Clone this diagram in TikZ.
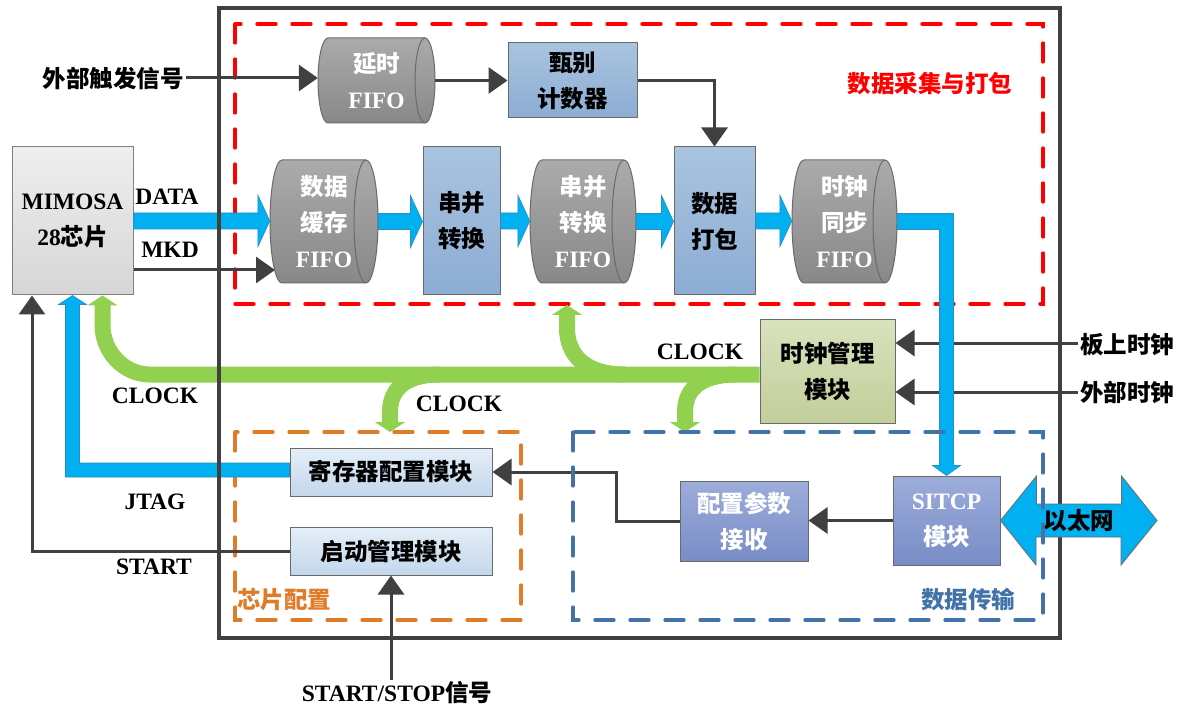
\documentclass[tikz,border=0pt]{standalone}
\usepackage{fontspec}
\setmainfont{Liberation Serif}
\newfontfamily\cjk{Noto Sans CJK SC}
\usetikzlibrary{arrows.meta,calc}
\definecolor{dk}{HTML}{404040}
\definecolor{bdr}{HTML}{6A6A6A}
\definecolor{bluearr}{HTML}{00B0F0}
\definecolor{bluedk}{HTML}{2A8CC0}
\definecolor{grn}{HTML}{92D050}
\definecolor{orng}{HTML}{E07B28}
\definecolor{stb}{HTML}{4273A8}
\definecolor{ft}{HTML}{ABABAB}
\definecolor{fb}{HTML}{888888}
\definecolor{bbA}{HTML}{A9C4E0}
\definecolor{bbB}{HTML}{8CACD3}
\definecolor{lbA}{HTML}{E4EEF8}
\definecolor{lbB}{HTML}{C3D7EB}
\definecolor{gbA}{HTML}{D9E2BD}
\definecolor{gbB}{HTML}{C2CE9A}
\definecolor{pbA}{HTML}{9DADDB}
\definecolor{pbB}{HTML}{788CC6}
\definecolor{mgA}{HTML}{EEEEEE}
\definecolor{mgB}{HTML}{D6D6D6}
\newcommand{\fs}{\fontsize{23.5}{36}\selectfont}
\newcommand{\zh}[1]{{\cjk #1}}
\newcommand{\drawfifo}[7]{%
 \pgfmathsetmacro{\cyry}{(#5-#3)/2}%
 \pgfmathsetmacro{\cycy}{-(#3+#5)/2}%
 \pgfmathsetmacro{\cycx}{(#2+#4)/2}%
 \pgfmathsetmacro{\cyw}{#4-#2}%
 \pgfmathsetmacro{\cyh}{#5-#3}%
 \path[draw=bdr, line width=1pt, top color=ft, bottom color=fb] (#2+#6,-#3) -- (#4-#6,-#3) arc[start angle=90, end angle=-90, x radius=#6, y radius=\cyry] -- (#2+#6,-#5) arc[start angle=270, end angle=90, x radius=#6, y radius=\cyry] -- cycle;
 \draw[draw=bdr, line width=1pt] (#4-#6,-#3) arc[start angle=90, end angle=270, x radius=#6, y radius=\cyry];
 \node[fifotxt, minimum width=\cyw, minimum height=\cyh] (#1) at (\cycx,\cycy) {#7};
}
\newcommand{\bluechev}[2]{%
 \path let \p1=(#1), \p2=(#2) in [bchev] (\x1,\y1+8pt) -- (\x2-12pt,\y1+8pt) -- (\x2-12pt,\y1+26pt) -- (\x2,\y1) -- (\x2-12pt,\y1-26pt) -- (\x2-12pt,\y1-8pt) -- (\x1,\y1-8pt) -- cycle;
}
\begin{document}
\begin{tikzpicture}[x=1pt,y=1pt,
 mybox/.style={rectangle, inner sep=0pt, align=center, font=\fs\bfseries, line width=1pt, draw=bdr},
 bluebox/.style={mybox, top color=bbA, bottom color=bbB},
 ltbox/.style={mybox, top color=lbA, bottom color=lbB},
 grnbox/.style={mybox, top color=gbA, bottom color=gbB},
 purbox/.style={mybox, top color=pbA, bottom color=pbB, text=white},
 graybox/.style={mybox, top color=mgA, bottom color=mgB, draw=gray},
 fifotxt/.style={rectangle, inner sep=0pt, align=center, font=\fs\bfseries, text=white},
 lbl/.style={font=\fs\bfseries, inner sep=2pt, align=center},
 arr/.style={draw=dk, line width=3pt, -{Triangle[length=19pt,width=26pt]}},
 gbus/.style={draw=grn, line width=16pt},
 gtip/.style={gbus, -{Triangle[length=10pt,width=30pt]}},
 bchev/.style={fill=bluearr, draw=bluedk, line width=0.6pt},
 dashbox/.style={line width=3.3pt, line cap=round, dash pattern=on 19pt off 16pt}]
\useasboundingbox (0,0) rectangle (1177,-708);
\fill[white] (0,0) rectangle (1177,-708);

% dashed group boxes
\draw[dashbox, draw=red] (235,-24) rectangle (1043,-304);
\draw[dashbox, draw=orng] (235,-432) rectangle (521,-620);

% blocks
\node[graybox, minimum width=121, minimum height=148] (mimosa) at (72.5,-221) {MIMOSA\\28\zh{芯片}};
\drawfifo{delay}{318}{38}{435}{123}{10}{\zh{延时}\\FIFO}
\node[bluebox, minimum width=129, minimum height=75] (screen) at (572.5,-80.5) {\zh{甄别}\\\zh{计数器}};
\drawfifo{buf}{270}{160}{378}{283}{12}{\zh{数据}\\\zh{缓存}\\FIFO}
\node[bluebox, minimum width=77, minimum height=148] (sp) at (461.5,-221) {\zh{串并}\\\zh{转换}};
\drawfifo{spfifo}{530}{160}{636}{283}{12}{\zh{串并}\\\zh{转换}\\FIFO}
\node[bluebox, minimum width=81, minimum height=148] (pack) at (714.5,-221) {\zh{数据}\\\zh{打包}};
\drawfifo{syncfifo}{792}{160}{897}{283}{12}{\zh{时钟}\\\zh{同步}\\FIFO}
\node[grnbox, minimum width=135, minimum height=103] (clk) at (827.5,-371.5) {\zh{时钟管理}\\\zh{模块}};
\node[ltbox, minimum width=202, minimum height=48] (reg) at (391,-472) {\zh{寄存器配置模块}};
\node[ltbox, minimum width=202, minimum height=48] (start) at (391,-551) {\zh{启动管理模块}};
\node[purbox, minimum width=128, minimum height=80] (cfg) at (744,-521) {\zh{配置参数}\\\zh{接收}};
\node[purbox, minimum width=107, minimum height=89] (sitcp) at (946.5,-520.5) {SITCP\\\zh{模块}};

% text labels
\node[lbl] (trig) at (113,-78) {\zh{外部触发信号}};
\node[lbl] (data) at (167,-197) {DATA};
\node[lbl] (mkd) at (170,-250) {MKD};
\node[lbl] (clkL) at (155,-396) {CLOCK};
\node[lbl] (clkM) at (459,-404) {CLOCK};
\node[lbl] (clkR) at (700,-352) {CLOCK};
\node[lbl] (jtag) at (155,-502) {JTAG};
\node[lbl] (startlbl) at (154,-567) {START};
\node[lbl] (stoptxt) at (397,-693) {START/STOP\zh{信号}};
\node[lbl] (board) at (1127,-345) {\zh{板上时钟}};
\node[lbl] (extclk) at (1127,-392) {\zh{外部时钟}};
\node[lbl, text=red] (grpA) at (930,-84) {\zh{数据采集与打包}};
\node[lbl, text=orng] (grpB) at (284,-600) {\zh{芯片配置}};
\node[lbl, text=stb] (grpC) at (968,-600) {\zh{数据传输}};

% gray connectors
\coordinate (mkdend) at (275,-270);
\draw[arr] (trig.east) -- (trig.east -| delay.west);
\draw[arr] (delay.east) -- (delay.east -| screen.west);
\draw[arr] (screen.east) -| (pack.north);
\draw[arr] (mimosa.east |- mkdend) -- (mkdend);
\draw[arr] (board.west |- 0,-343) -- (clk.east |- 0,-343);
\draw[arr] (extclk.west |- 0,-392) -- (clk.east |- 0,-392);
\draw[arr] (sitcp.west) -- (sitcp.west -| cfg.east);
\draw[arr] (cfg.west) -- ++(-63,0) |- (reg.east);
\draw[arr] (start.west) -| ($(mimosa.south)+(-40.5,0)$);
\draw[arr] (start.south |- stoptxt.north) -- (start.south);

% blue data bands
\bluechev{mimosa.east}{buf.west}
\bluechev{buf.east}{sp.west}
\bluechev{sp.east}{spfifo.west}
\bluechev{spfifo.east}{pack.west}
\bluechev{pack.east}{syncfifo.west}
\path let \p1=(syncfifo.east), \p2=(sitcp.north) in [bchev] (\x1,\y1+8pt) -- (\x2+7pt,\y1+8pt) -- (\x2+7pt,\y2+10pt) -- (\x2+14pt,\y2+10pt) -- (\x2,\y2) -- (\x2-14pt,\y2+10pt) -- (\x2-7pt,\y2+10pt) -- (\x2-7pt,\y1-8pt) -- (\x1,\y1-8pt) -- cycle;
\path let \p1=(reg.west), \p2=(mimosa.south) in [bchev] (\x1,\y1+9pt) -- (\x2+7pt,\y1+9pt) -- (\x2+7pt,\y2-9pt) -- (\x2+14pt,\y2-9pt) -- (\x2,\y2) -- (\x2-14pt,\y2-9pt) -- (\x2-7pt,\y2-9pt) -- (\x2-7pt,\y1-5pt) -- (\x1,\y1-5pt) -- cycle;

% green clock bus
\draw[gtip] ($(clk.west)+(0,-3)$) -- (150,-374.5) .. controls (124,-374.5) and (102.5,-352) .. (102.5,-325) -- ($(mimosa.south)+(30,0)$);
\coordinate (gup) at (567,-305);
\coordinate (gdnA) at (390,-432);
\coordinate (gdnB) at (685,-432);
\draw[gtip] (625,-374.5) .. controls (585,-374.5) and (567,-355) .. (567,-328) -- (gup);
\draw[gtip] (440,-374.5) .. controls (402,-374.5) and (390,-392) .. (390,-412) -- (gdnA);
\draw[gtip] (737,-374.5) .. controls (697,-374.5) and (685,-392) .. (685,-412) -- (gdnB);

% outer frame
\draw[dk, line width=3.5pt] (219,-8) rectangle (1060,-638);

% ethernet double arrow
\coordinate (ethR) at (1157,-520.5);
\path[fill=bluearr, draw=bdr, line width=0.8pt] (sitcp.east) -- ++(36,44.5) -- ++(0,-28) -- ++(85,0) -- ++(0,28) -- (ethR) -- ++(-36,-44.5) -- ++(0,28) -- ++(-85,0) -- ++(0,-28) -- cycle;
\draw[dashbox, draw=stb] (573,-432) rectangle (1043,-620);
\node[lbl] (eth) at (1079,-521) {\zh{以太网}};
\end{tikzpicture}
\end{document}
